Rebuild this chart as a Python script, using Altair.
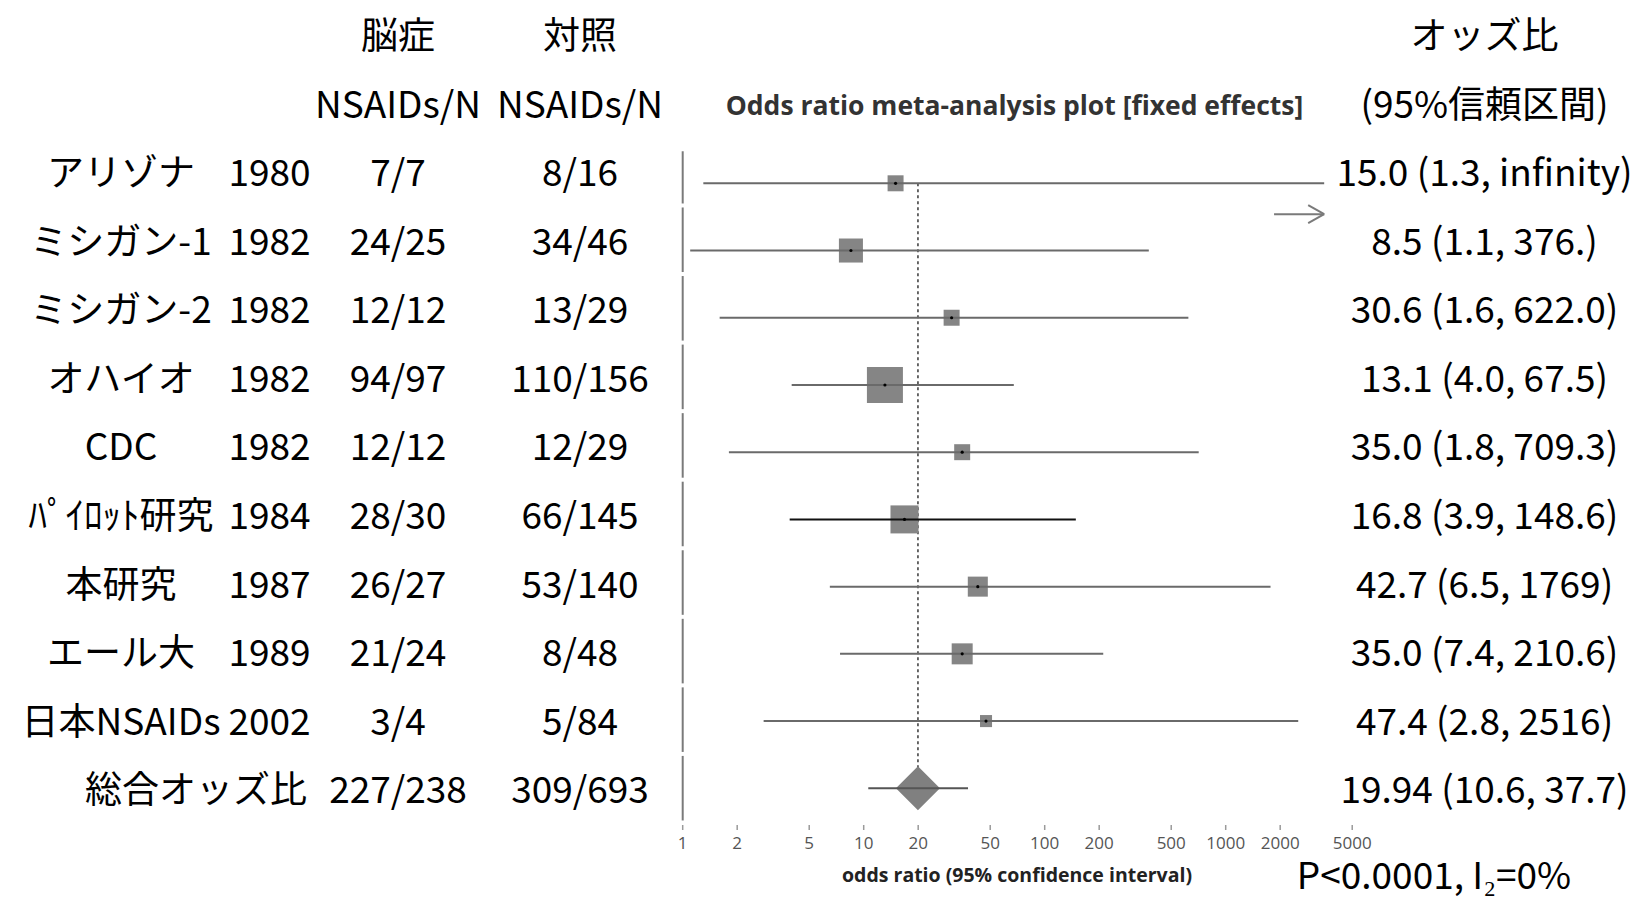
import math
import altair as alt
import pandas as pd

# ---------------- data ----------------
names = ["アリゾナ", "ミシガン-1", "ミシガン-2", "オハイオ", "CDC",
         "ﾊﾟｲﾛｯﾄ研究", "本研究", "エール大", "日本NSAIDs"]
years = ["1980", "1982", "1982", "1982", "1982", "1984", "1987", "1989", "2002"]
cases = ["7/7", "24/25", "12/12", "94/97", "12/12", "28/30", "26/27", "21/24", "3/4"]
controls = ["8/16", "34/46", "13/29", "110/156", "12/29", "66/145", "53/140", "8/48", "5/84"]
odds_ratio = [15.0, 8.5, 30.6, 13.1, 35.0, 16.8, 42.7, 35.0, 47.4]
ci_low = [1.3, 1.1, 1.6, 4.0, 1.8, 3.9, 6.5, 7.4, 2.8]
ci_high = [math.inf, 376.0, 622.0, 67.5, 709.3, 148.6, 1769.0, 210.6, 2516.0]
or_labels = ["15.0 (1.3, infinity)", "8.5 (1.1, 376.)", "30.6 (1.6, 622.0)",
             "13.1 (4.0, 67.5)", "35.0 (1.8, 709.3)", "16.8 (3.9, 148.6)",
             "42.7 (6.5, 1769)", "35.0 (7.4, 210.6)", "47.4 (2.8, 2516)"]
weight_pct = [5.8, 13.1, 5.8, 29.4, 5.8, 17.8, 9.1, 10.0, 3.3]

total_label = "総合オッズ比"
total_cases = "227/238"
total_controls = "309/693"
pooled_or = 19.94
pooled_low = 10.6
pooled_high = 37.7
pooled_label = "19.94 (10.6, 37.7)"

tick_values = [1, 2, 5, 10, 20, 50, 100, 200, 500, 1000, 2000, 5000]

header_case = ["脳症", "NSAIDs/N"]
header_control = ["対照", "NSAIDs/N"]
header_or = ["オッズ比", "(95%信頼区間)"]
plot_title = "Odds ratio meta-analysis plot [fixed effects]"
axis_title = "odds ratio (95% confidence interval)"
footer = "P<0.0001, I₂=0%"

# ---------------- layout constants ----------------
W, H = 1635, 896
DRAW_MAX = 3500          # where an "infinity" interval is cut off
ARROW_FROM = 1850
JP = "Noto Sans CJK JP"
FS = 37
TEXT_DY = 4
n = len(names)

X = alt.Scale(type="log", domain=[1, 5000], range=[674.7, 674.7 + 181 * math.log10(5000)], nice=False)
Y_PLOT = alt.Scale(domain=[0, 9], range=[175.3, 780.3], nice=False, zero=False)
Y_TEXT = alt.Scale(domain=[0, 9], range=[163.2, 780.2], nice=False, zero=False)

studies = pd.DataFrame({
    "i": list(range(n)),
    "name": names,
    "or": odds_ratio,
    "lo": ci_low,
    "hi": [min(h, DRAW_MAX) for h in ci_high],
    "w": weight_pct,
})
pooled = pd.DataFrame({"i": [n], "or": [pooled_or], "lo": [pooled_low], "hi": [pooled_high]})


def col_df(header, body, total):
    texts = list(header) + list(body) + ([total] if total is not None else [])
    return pd.DataFrame({"i": list(range(-len(header), -len(header) + len(texts))), "t": texts})


def text_layer(df, xpx, align="center", size=FS, font=JP, color="black", weight="normal"):
    return alt.Chart(df).mark_text(
        align=align, baseline="middle", font=font, fontSize=size, color=color,
        fontWeight=weight, dy=TEXT_DY
    ).encode(
        x=alt.value(xpx),
        y=alt.Y("i:Q", scale=Y_TEXT, axis=None),
        text="t:N",
    )


yp = lambda: alt.Y("i:Q", scale=Y_PLOT, axis=None)

# table border segments at OR = 1 (one per table row)
borders = alt.Chart(pd.DataFrame({"i": list(range(n + 1))})).transform_calculate(
    a="datum.i == 0 ? -0.32 : datum.i - 0.5", b="datum.i + 0.5", one="1"
).mark_rule(color="#7a7a7a", strokeWidth=2, yOffset=2, y2Offset=-2).encode(
    x=alt.X("one:Q", scale=X, axis=None),
    y=alt.Y("a:Q", scale=Y_TEXT, axis=None),
    y2="b:Q",
)

ref_line = alt.Chart(pooled).transform_calculate(top="0").mark_rule(
    color="#444", strokeWidth=1.6, strokeDash=[3, 3]
).encode(
    x=alt.X("or:Q", scale=X, axis=None),
    y=alt.Y("top:Q", scale=Y_PLOT, axis=None),
    y2="i:Q",
)

squares = alt.Chart(studies).mark_point(shape="square", filled=True, color="#858585", opacity=1).encode(
    x=alt.X("or:Q", scale=X, axis=None),
    y=yp(),
    size=alt.Size("w:Q", scale=alt.Scale(domain=[0, 100], range=[0, 4409]), legend=None),
)

ci_lines = alt.Chart(studies).mark_rule(strokeWidth=2).encode(
    x=alt.X("lo:Q", scale=X, axis=None),
    x2="hi:Q",
    y=yp(),
    color=alt.condition(alt.datum.name == "ﾊﾟｲﾛｯﾄ研究", alt.value("#111111"), alt.value("#6a6a6a")),
)

dots = alt.Chart(studies).mark_point(shape="circle", filled=True, color="black", size=10, opacity=1).encode(
    x=alt.X("or:Q", scale=X, axis=None),
    y=yp(),
)

diamond = alt.Chart(pooled).mark_point(shape="diamond", filled=True, color="#808080", opacity=1, size=1936).encode(
    x=alt.X("or:Q", scale=X, axis=None),
    y=yp(),
)

pooled_ci = alt.Chart(pooled).mark_rule(strokeWidth=2, color="#555").encode(
    x=alt.X("lo:Q", scale=X, axis=None),
    x2="hi:Q",
    y=yp(),
)

arrow_df = pd.DataFrame({"i": [0.46], "a": [ARROW_FROM], "b": [DRAW_MAX]})
arrow_shaft = alt.Chart(arrow_df).mark_rule(color="#7a7a7a", strokeWidth=2).encode(
    x=alt.X("a:Q", scale=X, axis=None), x2="b:Q", y=yp()
)
arrow_up = alt.Chart(arrow_df).mark_rule(color="#7a7a7a", strokeWidth=2, x2Offset=-16, y2Offset=-9).encode(
    x=alt.X("b:Q", scale=X, axis=None), x2="b:Q", y=yp(), y2="i:Q"
)
arrow_dn = alt.Chart(arrow_df).mark_rule(color="#7a7a7a", strokeWidth=2, x2Offset=-16, y2Offset=9).encode(
    x=alt.X("b:Q", scale=X, axis=None), x2="b:Q", y=yp(), y2="i:Q"
)

ticks_df = pd.DataFrame({"v": tick_values, "t": [str(v) for v in tick_values]})
ticks = alt.Chart(ticks_df).mark_rule(color="#9a9a9a", strokeWidth=1.5).encode(
    x=alt.X("v:Q", scale=X, axis=None), y=alt.value(817), y2=alt.value(822)
)
tick_labels = alt.Chart(ticks_df).mark_text(
    font="Open Sans", fontSize=17, color="#555", baseline="middle"
).encode(x=alt.X("v:Q", scale=X, axis=None), y=alt.value(836), text="t:N")

axis_title_l = alt.Chart(pd.DataFrame({"t": [axis_title]})).mark_text(
    font="Open Sans", fontSize=19.5, fontWeight="bold", color="#222", baseline="middle"
).encode(x=alt.value(1009), y=alt.value(868), text="t:N")

footer_l = alt.Chart(pd.DataFrame({"t": [footer]})).mark_text(
    font=JP, fontSize=FS, color="black", baseline="middle"
).encode(x=alt.value(1426), y=alt.value(870), text="t:N")

name_col = text_layer(pd.DataFrame({"i": list(range(n)), "t": names}), 113)
total_name = text_layer(pd.DataFrame({"i": [n], "t": [total_label]}), 188)
year_col = text_layer(pd.DataFrame({"i": list(range(n)), "t": years}), 261.5)
case_col = text_layer(col_df(header_case, cases, total_cases), 390)
control_col = text_layer(col_df(header_control, controls, total_controls), 572)
or_col = text_layer(col_df(header_or, or_labels, pooled_label), 1476.5)
title_l = text_layer(pd.DataFrame({"i": [-1], "t": [plot_title]}), 1006.5,
                     size=26.5, font="Open Sans", color="#333", weight="bold")

chart = alt.layer(
    borders, ref_line, squares, ci_lines, dots, diamond, pooled_ci,
    arrow_shaft, arrow_up, arrow_dn, ticks, tick_labels, axis_title_l, footer_l,
    name_col, total_name, year_col, case_col, control_col, or_col, title_l,
).resolve_scale(y="independent").properties(
    width=W, height=H, padding=0, autosize=alt.AutoSizeParams(type="none"), background="white"
).configure_view(stroke=None)

chart.save("out.html", embed_options={"renderer": "svg", "actions": False})
